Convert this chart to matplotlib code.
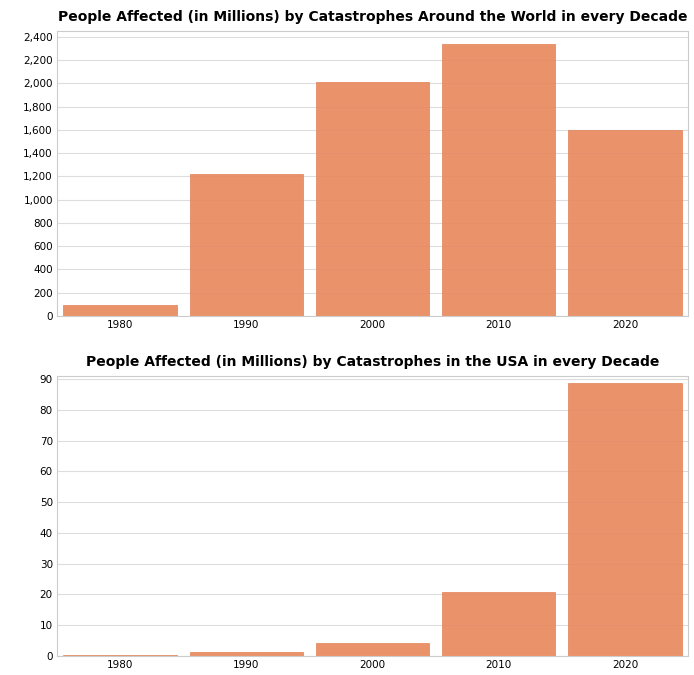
import matplotlib
matplotlib.use("Agg")
import matplotlib.pyplot as plt
from matplotlib.ticker import FuncFormatter, MultipleLocator

decades = ["1980", "1990", "2000", "2010", "2020"]
world = [95, 1225, 2010, 2340, 1595]
usa = [0.2, 1.2, 4.3, 20.8, 88.7]

color = "#E8875B"
fig = plt.figure(figsize=(6.94, 6.75), dpi=100)
ax1 = fig.add_axes([57/694, 1-316/675, 631/694, 285/675])
ax2 = fig.add_axes([57/694, 1-656/675, 631/694, 280/675])

def style(ax, vals, title, top, step):
    x = range(len(vals))
    ax.bar(x, vals, width=0.9, color=color, alpha=0.9, edgecolor="#E07A4A", linewidth=0.5, zorder=2)
    ax.set_xlim(-0.5, len(vals)-0.5)
    ax.set_ylim(0, top)
    ax.yaxis.set_major_locator(MultipleLocator(step))
    ax.yaxis.set_major_formatter(FuncFormatter(lambda v, p: f"{int(v):,}"))
    ax.set_xticks(list(x))
    ax.set_xticklabels(decades)
    ax.grid(axis="y", color="#dddddd", linewidth=0.8, zorder=0)
    for s in ax.spines.values():
        s.set_color("#cccccc")
    ax.tick_params(labelsize=7.5, length=0, pad=3)
    ax.set_title(title, fontsize=10, fontweight="bold", pad=7)

style(ax1, world, "People Affected (in Millions) by Catastrophes Around the World in every Decade", 2450, 200)
style(ax2, usa, "People Affected (in Millions) by Catastrophes in the USA in every Decade", 91, 10)
fig.savefig("out.png", dpi=100)
